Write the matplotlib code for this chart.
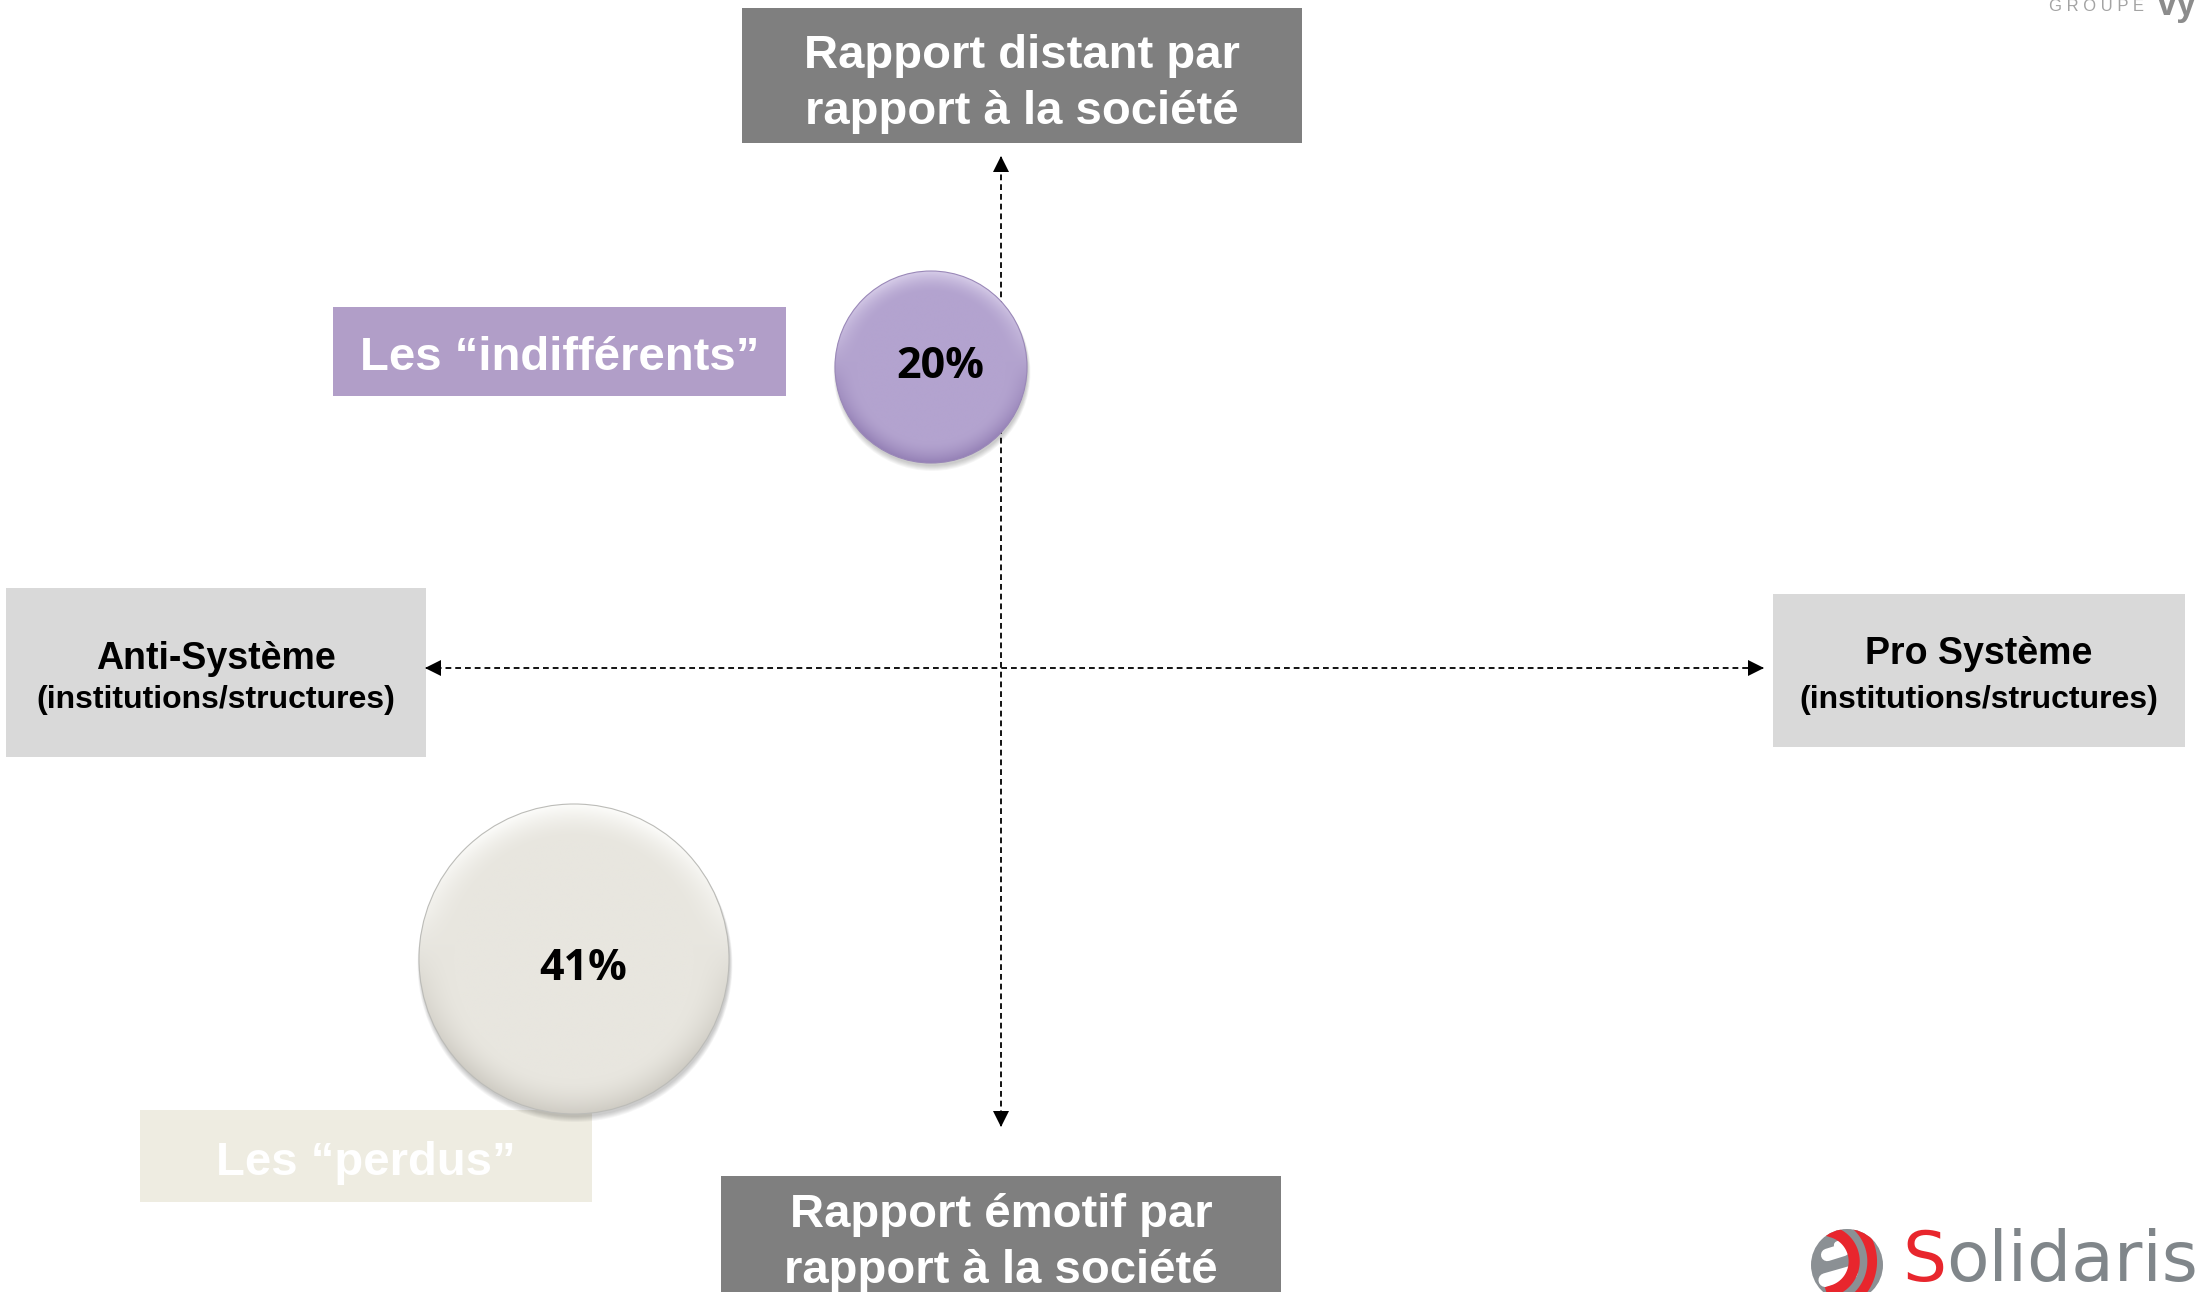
import matplotlib.pyplot as plt
from matplotlib.patches import Rectangle, Circle
from matplotlib.colors import to_rgb
import numpy as np

# segments placed on the two axes (x: anti/pro système, y: émotif/distant)
segments = ["Les \u201cindiff\u00e9rents\u201d", "Les \u201cperdus\u201d"]
shares = [20, 41]
pos_x = [-0.70, -4.27]
pos_y = [3.01, -2.91]

axis_top = ["Rapport distant par", "rapport \u00e0 la soci\u00e9t\u00e9"]
axis_bottom = ["Rapport \u00e9motif par", "rapport \u00e0 la soci\u00e9t\u00e9"]
axis_left = ["Anti-Syst\u00e8me", "(institutions/structures)"]
axis_right = ["Pro Syst\u00e8me", "(institutions/structures)"]

# style
bubble_r = [0.96, 1.55]
pct_dy = [0.0, -0.10]
bubble_cols = [
    dict(base="#b3a3cf", light="#d6cce8", dark="#9581b6", line="#9a88b8"),
    dict(base="#e8e6df", light="#fcfcfa", dark="#cfccc4", line="#bcbcb8"),
]
label_cols = ["#b19ec8", "#eeece1"]
dark_box = "#7f7f7f"
light_box = "#d9d9d9"
arial = "Liberation Sans"

fig = plt.figure(figsize=(21.96, 12.92), dpi=100)
ax = fig.add_axes([0, 0, 1, 1])
ax.axis("off")


def box(x0, x1, y0, y1, color, z=2):
    ax.add_patch(Rectangle((x0, y0), x1 - x0, y1 - y0, fc=color, ec="none", zorder=z))


def bubble(cx, cy, r, c, z=4):
    # soft drop shadow
    for k in range(6):
        ax.add_patch(Circle((cx + 0.01, cy - 0.03 - 0.005 * k), r + 0.005 * k,
                            fc="#000000", ec="none", alpha=0.035, zorder=z - 0.5))
    n = 300
    yy, xx = np.mgrid[-1:1:n * 1j, -1:1:n * 1j]
    rr = np.hypot(xx, yy)
    base = np.array(to_rgb(c["base"]))
    light = np.array(to_rgb(c["light"]))
    dark = np.array(to_rgb(c["dark"]))
    edge = np.clip((rr - 0.78) / 0.22, 0, 1) ** 1.6
    up = np.clip(yy + 0.15, 0, 1)[..., None]
    down = np.clip(-yy + 0.3, 0, 1)[..., None]
    img = base + edge[..., None] * (up * (light - base) + down * (dark - base))
    img = np.clip(img, 0, 1)
    circ = Circle((cx, cy), r, fc="none", ec=c["line"], lw=0.8, zorder=z + 0.1)
    ax.add_patch(circ)
    im = ax.imshow(img, extent=[cx - r, cx + r, cy - r, cy + r], origin="lower",
                   zorder=z, interpolation="bilinear")
    im.set_clip_path(circ)


# axis title boxes
box(-2.59, 3.01, 5.25, 6.60, dark_box)
ax.text(0.21, 6.00, axis_top[0], ha="center", va="baseline", color="white",
        fontsize=34, fontweight="bold", family=arial, zorder=3)
ax.text(0.21, 5.44, axis_top[1], ha="center", va="baseline", color="white",
        fontsize=34, fontweight="bold", family=arial, zorder=3)

box(-2.80, 2.80, -6.40, -5.08, dark_box)
ax.text(0.0, -5.59, axis_bottom[0], ha="center", va="baseline", color="white",
        fontsize=34, fontweight="bold", family=arial, zorder=3)
ax.text(0.0, -6.15, axis_bottom[1], ha="center", va="baseline", color="white",
        fontsize=34, fontweight="bold", family=arial, zorder=3)

box(-9.95, -5.75, -0.89, 0.80, light_box)
ax.text(-7.85, 0.09, axis_left[0], ha="center", va="center", color="black",
        fontsize=27, fontweight="bold", family=arial, zorder=3)
ax.text(-7.85, -0.32, axis_left[1], ha="center", va="center", color="black",
        fontsize=23, fontweight="bold", family=arial, zorder=3)

box(7.72, 11.84, -0.79, 0.74, light_box)
ax.text(9.78, 0.14, axis_right[0], ha="center", va="center", color="black",
        fontsize=27, fontweight="bold", family=arial, zorder=3)
ax.text(9.78, -0.32, axis_right[1], ha="center", va="center", color="black",
        fontsize=23, fontweight="bold", family=arial, zorder=3)

# dashed axes with arrow heads
ax.plot([-5.75, 7.62], [0, 0], color="black", lw=1.3, dashes=(3.2, 2.2), zorder=3)
ax.plot([0, 0], [-4.58, 5.11], color="black", lw=1.3, dashes=(3.2, 2.2), zorder=3)
ax.plot(7.55, 0, marker=">", ms=11, color="black", mew=0, zorder=3)
ax.plot(-5.68, 0, marker="<", ms=11, color="black", mew=0, zorder=3)
ax.plot(0, 5.04, marker="^", ms=11, color="black", mew=0, zorder=3)
ax.plot(0, -4.51, marker="v", ms=11, color="black", mew=0, zorder=3)

# segment labels
box(-6.68, -2.15, 2.72, 3.61, label_cols[0])
ax.text(-4.415, 3.10, segments[0], ha="center", va="center", color="white",
        fontsize=34, fontweight="bold", family=arial, zorder=3)
box(-8.61, -4.09, -5.34, -4.42, label_cols[1])
ax.text(-6.35, -4.95, segments[1], ha="center", va="center", color="white",
        fontsize=34, fontweight="bold", family=arial, zorder=3)

# bubbles
for x, y, r, s, c, dy in zip(pos_x, pos_y, bubble_r, shares, bubble_cols, pct_dy):
    bubble(x, y, r, c)
    ax.text(x + 0.09, y + dy, f"{s}%", ha="center", va="center", color="black",
            fontsize=31, fontweight="bold", family="Open Sans", zorder=6)

# logos
ax.text(10.48, 6.57, "G R O U P E", ha="left", va="baseline", color="#a3a3a3",
        fontsize=12, family=arial)
ax.text(11.56, 6.53, "vyv", ha="left", va="baseline", color="#8c8c8c",
        fontsize=26, fontweight="bold", family=arial)

gx, gy, gr = 8.46, -5.97, 0.36
globe = Circle((gx, gy), gr, fc="#8b9094", ec="none", zorder=5)
ax.add_patch(globe)
for (x0, y0, x1, y1, w) in [(-0.55, 0.28, -0.1, 0.42, 9), (-0.25, 0.55, -0.05, 0.6, 6),
                            (-0.6, -0.42, 0.1, -0.22, 10)]:
    ln, = ax.plot([gx + x0 * gr, gx + x1 * gr], [gy + y0 * gr, gy + y1 * gr],
                  color="white", lw=w, solid_capstyle="round", zorder=6)
    ln.set_clip_path(globe)
th = np.linspace(-1.3, 1.3, 40)
for rr, w in [(0.85, 8), (1.35, 7)]:
    ln, = ax.plot(gx - 0.65 * gr + rr * gr * np.cos(th),
                  gy + 0.1 * gr + rr * gr * np.sin(th), color="#e8262d", lw=w, zorder=6)
    ln.set_clip_path(globe)

s_txt = ax.text(9.01, -6.13, "S", ha="left", va="baseline", color="#e8262d",
                fontsize=50, family="DejaVu Sans", zorder=6)
ax.annotate("olidaris", xy=(1, 0), xycoords=s_txt, ha="left", va="bottom",
            color="#80868a", fontsize=50, family="DejaVu Sans", zorder=6)

ax.set_xlim(-10.01, 11.95)
ax.set_ylim(-6.24, 6.68)
ax.set_aspect("auto")

fig.savefig("out.png", dpi=100, facecolor="white")
